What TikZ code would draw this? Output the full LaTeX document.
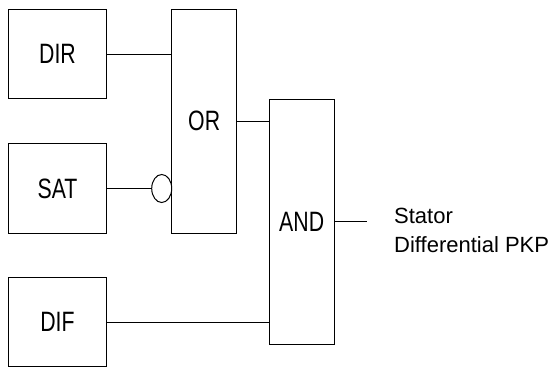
\documentclass[tikz,border=0pt]{standalone}
\usepackage{fontspec}
\setmainfont{Liberation Sans}
\newfontfamily\narrowfont{Liberation Sans}[FakeStretch=0.76]
\usetikzlibrary{shapes.geometric}

\tikzset{
  blockbox/.style={draw, line width=1pt, minimum width=98.4, minimum height=89.5, inner sep=0,
    font=\narrowfont\fontsize{28}{30}\selectfont},
  gatebox/.style={draw, line width=1pt, minimum width=65, inner sep=0,
    font=\narrowfont\fontsize{28}{30}\selectfont},
  wire/.style={line width=1pt}
}

\begin{document}
\begin{tikzpicture}[x=1pt,y=-1pt]
\useasboundingbox (0,0) rectangle (548,369);
\node[blockbox] (dir) at (57.5,54.2) {DIR};
\node[blockbox] (sat) at (57.5,188.5) {SAT};
\node[blockbox] (dif) at (57.5,322.2) {DIF};
\node[gatebox, minimum height=223.7] (or) at (204.2,121.2) {OR};
\node[gatebox, minimum height=245.3] (and) at (301.7,221.7) {AND};
\node[draw, line width=1pt, ellipse, minimum width=20, minimum height=28, inner sep=0] (inv) at (161.7,188.5) {};
\coordinate (out) at (366.7,221.7);
\node[anchor=west, inner sep=0, align=left, font=\fontsize{22}{28.7}\selectfont] (lbl) at (394,230.4) {Stator\\Differential PKP};
\draw[wire] (dir.east) -- (dir.east -| or.west);
\draw[wire] (sat.east) -- (inv.west);
\draw[wire] (or.east) -- (or.east -| and.west);
\draw[wire] (dif.east) -- (dif.east -| and.west);
\draw[wire] (and.east) -- (out);
\end{tikzpicture}
\end{document}
